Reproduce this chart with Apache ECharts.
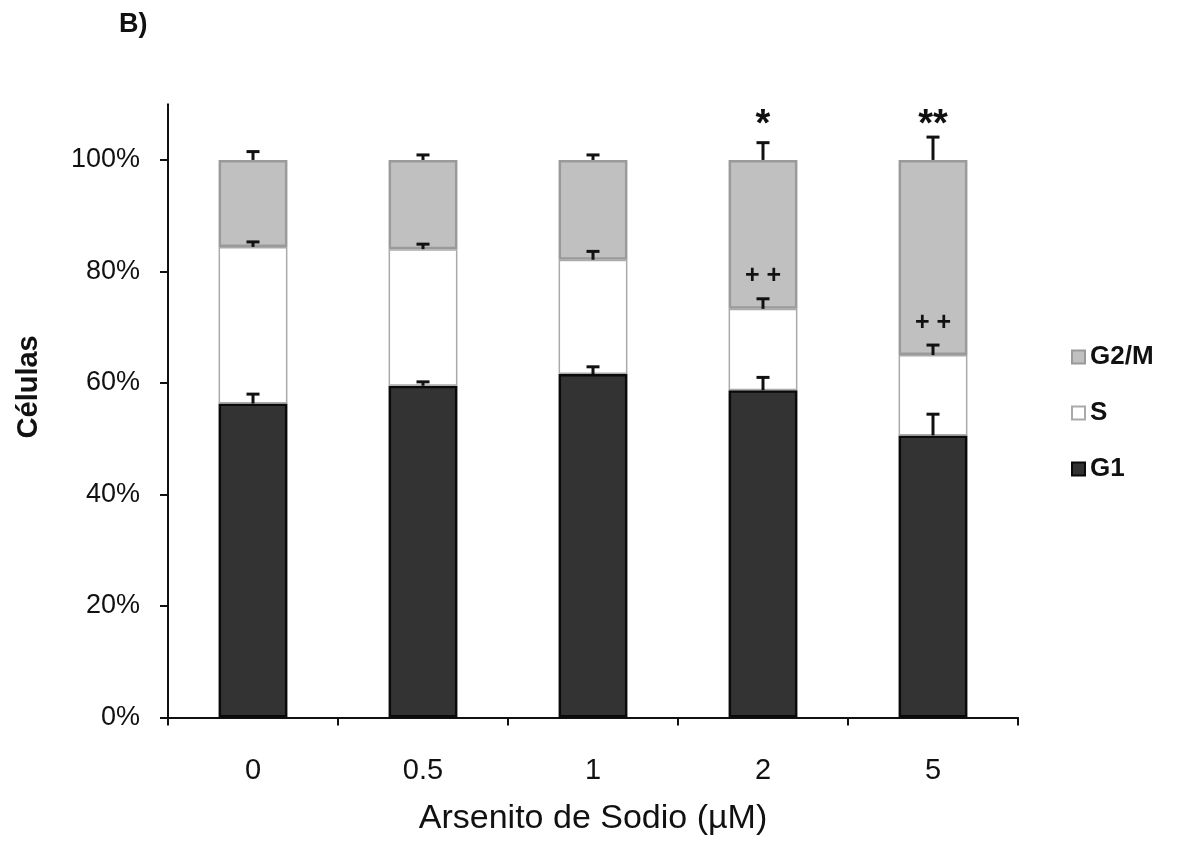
<!DOCTYPE html>
<html>
<head>
<meta charset="utf-8">
<script src="https://cdn.jsdelivr.net/npm/echarts@6/dist/echarts.min.js"></script>
<style>
html,body{margin:0;padding:0;background:#fff;}
#chart{width:1178px;height:844px;}
</style>
</head>
<body>
<div id="chart"></div>
<script>
// ---- data ----
var categories = ['0', '0.5', '1', '2', '5'];
var g1 = [56.3, 59.5, 61.6, 58.7, 50.6];
var sPhase = [28.1, 24.5, 20.5, 14.6, 14.4];
var g2m = [15.6, 16.0, 17.9, 26.7, 35.0];
var g1Err = [1.7, 0.7, 1.3, 2.3, 3.8];
var sErr = [0.9, 0.9, 1.5, 1.8, 1.8];
var g2mErr = [1.5, 0.9, 0.9, 3.1, 4.1];
var yTicks = [0, 20, 40, 60, 80, 100];
// significance marks: category index, level (%), text
var starIdx = [3, 4];
var starLevel = [106.2, 106.2];
var starText = ['*', '**'];
var plusIdx = [3, 4];
var plusLevel = [79.1, 70.7];
var plusText = ['+ +', '+ +'];

// ---- derived error-bar data (stack tops) ----
var errData = [];
for (var i = 0; i < categories.length; i++) {
  var t1 = g1[i];
  var t2 = g1[i] + sPhase[i];
  var t3 = g1[i] + sPhase[i] + g2m[i];
  errData.push([i, t1, g1Err[i]]);
  errData.push([i, t2, sErr[i]]);
  errData.push([i, t3, g2mErr[i]]);
}
var starData = starIdx.map(function (c, k) { return [c, starLevel[k]]; });
var plusData = plusIdx.map(function (c, k) { return [c, plusLevel[k]]; });

var chart = echarts.init(document.getElementById('chart'));
var FONT = '"Liberation Sans", Arial, Helvetica, sans-serif';

function errRender(params, api) {
  var x = api.value(0), top = api.value(1), e = api.value(2);
  var p0 = api.coord([x, top]);
  var p1 = api.coord([x, top + e]);
  var half = 6.5;
  var st = {stroke: '#111', lineWidth: 3};
  return {
    type: 'group',
    children: [
      {type: 'line', shape: {x1: p0[0], y1: p0[1], x2: p1[0], y2: p1[1]}, style: st},
      {type: 'line', shape: {x1: p1[0] - half, y1: p1[1], x2: p1[0] + half, y2: p1[1]}, style: st}
    ]
  };
}
function textRender(texts, fontSpec) {
  return function (params, api) {
    var p = api.coord([api.value(0), api.value(1)]);
    return {
      type: 'text',
      x: p[0], y: p[1],
      style: {text: texts[params.dataIndex], font: fontSpec, fill: '#111', align: 'center', verticalAlign: 'middle'}
    };
  };
}

chart.setOption({
  animation: false,
  backgroundColor: '#fff',
  graphic: [{
    type: 'text', left: 119, top: 11,
    style: {text: 'B)', font: 'bold 27px ' + FONT, fill: '#111'}
  }],
  grid: {left: 168, right: 160, top: 104.2, bottom: 126.5, containLabel: false},
  legend: {
    orient: 'vertical',
    left: 1066, top: 339,
    icon: 'rect',
    itemWidth: 13, itemHeight: 13, itemGap: 30,
    data: ['G2/M', 'S', 'G1'],
    textStyle: {fontFamily: FONT, fontSize: 26, fontWeight: 'bold', color: '#111'}
  },
  xAxis: {
    type: 'category',
    data: categories,
    boundaryGap: true,
    axisLine: {lineStyle: {color: '#111', width: 2}},
    axisTick: {show: true, length: 8, lineStyle: {color: '#111', width: 2}},
    axisLabel: {margin: 39, fontFamily: FONT, fontSize: 29, color: '#111'},
    name: 'Arsenito de Sodio (\u00b5M)',
    nameLocation: 'middle',
    nameGap: 84,
    nameTextStyle: {fontFamily: FONT, fontSize: 34, color: '#111'}
  },
  yAxis: {
    type: 'value',
    min: 0, max: 110,
    splitLine: {show: false},
    axisLine: {show: true, lineStyle: {color: '#111', width: 2}},
    axisTick: {show: true, length: 8, lineStyle: {color: '#111', width: 2}, customValues: yTicks},
    axisLabel: {margin: 28, fontFamily: FONT, fontSize: 27, color: '#111',
      customValues: yTicks, formatter: function (v) { return v + '%'; }},
    name: 'C\u00e9lulas',
    nameLocation: 'middle',
    nameGap: 125,
    nameTextStyle: {fontFamily: FONT, fontSize: 29, fontWeight: 'bold', color: '#111', padding: [0, 0, 0, 48]}
  },
  series: [
    {name: 'G1', type: 'bar', stack: 'all', data: g1, barWidth: '40.5%',
      itemStyle: {color: '#333333', borderColor: '#0a0a0a', borderWidth: 2.5}},
    {name: 'S', type: 'bar', stack: 'all', data: sPhase,
      itemStyle: {color: '#ffffff', borderColor: '#aaaaaa', borderWidth: 1.5}},
    {name: 'G2/M', type: 'bar', stack: 'all', data: g2m,
      itemStyle: {color: '#c0c0c0', borderColor: '#9a9a9a', borderWidth: 2.5}},
    {type: 'custom', renderItem: errRender, data: errData, z: 10, silent: true,
      encode: {x: 0, y: [1, 2]}},
    {type: 'custom', renderItem: textRender(starText, 'bold 38px ' + FONT), data: starData, z: 11, silent: true,
      encode: {x: 0, y: 1}},
    {type: 'custom', renderItem: textRender(plusText, 'bold 25px ' + FONT), data: plusData, z: 11, silent: true,
      encode: {x: 0, y: 1}}
  ]
});
</script>
</body>
</html>
